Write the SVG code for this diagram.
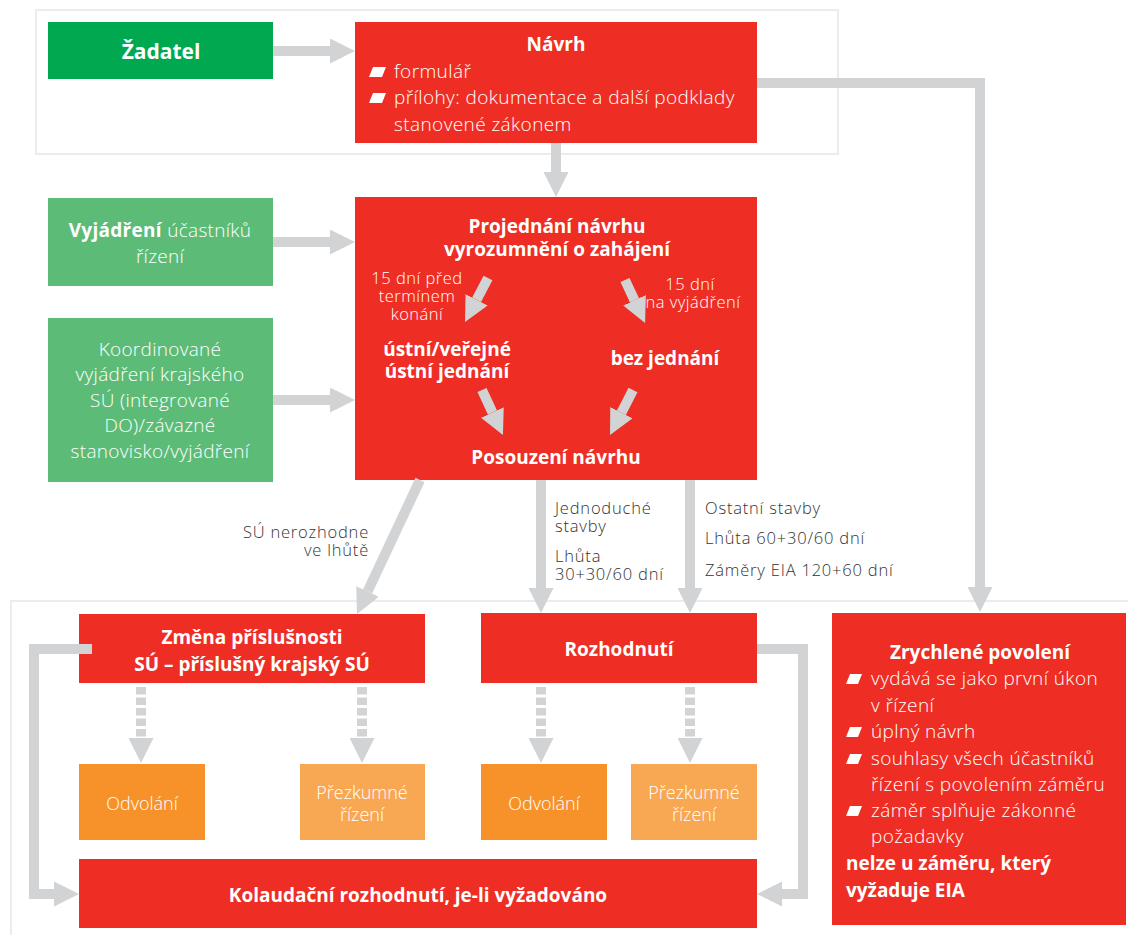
<svg xmlns="http://www.w3.org/2000/svg" width="1128" height="935" viewBox="0 0 1128 935">
<style>
  text { font-family: "Open Sans", "Liberation Sans", sans-serif; }
  .b { font-weight: 700; fill: #ffffff; font-size: 19px; }
  .l { font-weight: 300; fill: #ffffff; font-size: 19px; letter-spacing: 0.4px; }
  .g { font-weight: 300; fill: #ffffff; font-size: 19px; letter-spacing: 0.3px; }
  .o { font-weight: 300; fill: #ffffff; font-size: 18px; }
  .s { font-weight: 300; fill: #ffffff; font-size: 16.5px; letter-spacing: 0.5px; }
  .lab { font-weight: 300; fill: #333333; font-size: 16.5px; letter-spacing: 0.8px; }
  .c { text-anchor: middle; }
  .red { fill: #ee2e24; }
  .g1 { fill: #00a94f; }
  .g2 { fill: #5dbb78; }
  .o1 { fill: #f7922a; }
  .o2 { fill: #f8a852; }
  .frame { fill: none; stroke: #ececec; stroke-width: 2; }
  .con { fill: none; stroke: #d1d3d4; stroke-width: 10; marker-end: url(#ah); }
  .dash { stroke-dasharray: 7.5 3; }
  .bul { fill: #ffffff; }
</style>
<defs>
  <marker id="ah" viewBox="0 0 25 25" markerWidth="25" markerHeight="25" refX="0" refY="12.5" orient="auto" markerUnits="userSpaceOnUse">
    <path d="M0,0 L25,12.5 L0,25 z" fill="#d1d3d4"/>
  </marker>
</defs>
<rect width="1128" height="935" fill="#ffffff"/>
<g id="frames">
  <rect class="frame" x="36" y="10" width="802" height="144"/>
  <path class="frame" d="M11,936 V601 H1130"/>
</g>
<g id="zadatel">
  <rect class="g1" x="48" y="22" width="225" height="57"/>
  <text class="b c" x="161" y="59" style="font-size:21px">Žadatel</text>
</g>
<g id="navrh">
  <rect class="red" x="355" y="22" width="402" height="121"/>
  <text class="b c" x="556" y="51">Návrh</text>
  <polygon class="bul" points="373,67 386,67 382,77 369,77"/>
  <text class="l" x="394" y="78">formulář</text>
  <polygon class="bul" points="373,93 386,93 382,103 369,103"/>
  <text class="l" x="394" y="104">přílohy: dokumentace a další podklady</text>
  <text class="l" x="394" y="131">stanovené zákonem</text>
</g>
<g id="vyjadreni">
  <rect class="g2" x="48" y="198" width="225" height="88"/>
  <text class="g c" x="160" y="237"><tspan font-weight="700">Vyjádření</tspan> účastníků</text>
  <text class="g c" x="160" y="263">řízení</text>
</g>
<g id="koordinovane">
  <rect class="g2" x="48" y="318" width="225" height="164"/>
  <text class="g c" x="160" y="356">Koordinované</text>
  <text class="g c" x="160" y="381">vyjádření krajského</text>
  <text class="g c" x="160" y="407">SÚ (integrované</text>
  <text class="g c" x="160" y="432">DO)/závazné</text>
  <text class="g c" x="160" y="458">stanovisko/vyjádření</text>
</g>
<g id="projednani">
  <rect class="red" x="355" y="197" width="402" height="283"/>
  <text class="b c" x="557" y="233">Projednání návrhu</text>
  <text class="b c" x="557" y="256">vyrozumnění o zahájení</text>
  <text class="b c" x="447" y="356">ústní/veřejné</text>
  <text class="b c" x="447" y="378">ústní jednání</text>
  <text class="b c" x="665" y="365">bez jednání</text>
  <text class="b c" x="556" y="464">Posouzení návrhu</text>
</g>
<g id="zmena">
  <rect class="red" x="79" y="614" width="346" height="69"/>
  <text class="b c" x="252" y="644">Změna příslušnosti</text>
  <text class="b c" x="252" y="671">SÚ – příslušný krajský SÚ</text>
</g>
<g id="rozhodnuti">
  <rect class="red" x="481" y="613" width="276" height="70"/>
  <text class="b c" x="619" y="656">Rozhodnutí</text>
</g>
<g id="odvolani1">
  <rect class="o1" x="79" y="764" width="126" height="76"/>
  <text class="o c" x="142" y="810">Odvolání</text>
</g>
<g id="prezkumne1">
  <rect class="o2" x="300" y="764" width="125" height="76"/>
  <text class="o c" x="362" y="799">Přezkumné</text>
  <text class="o c" x="362" y="821">řízení</text>
</g>
<g id="odvolani2">
  <rect class="o1" x="481" y="764" width="126" height="76"/>
  <text class="o c" x="544" y="810">Odvolání</text>
</g>
<g id="prezkumne2">
  <rect class="o2" x="631" y="764" width="126" height="76"/>
  <text class="o c" x="694" y="799">Přezkumné</text>
  <text class="o c" x="694" y="821">řízení</text>
</g>
<g id="kolaudacni">
  <rect class="red" x="79" y="859" width="678" height="69"/>
  <text class="b c" x="418" y="902">Kolaudační rozhodnutí, je-li vyžadováno</text>
</g>
<g id="zrychlene">
  <rect class="red" x="832" y="613" width="294" height="312"/>
  <text class="b c" x="980" y="659">Zrychlené povolení</text>
  <polygon class="bul" points="850,674 862,674 858,684 846,684"/>
  <text class="l" x="871" y="685">vydává se jako první úkon</text>
  <text class="l" x="871" y="712">v řízení</text>
  <polygon class="bul" points="850,727 862,727 858,737 846,737"/>
  <text class="l" x="871" y="738">úplný návrh</text>
  <polygon class="bul" points="850,754 862,754 858,764 846,764"/>
  <text class="l" x="871" y="765">souhlasy všech účastníků</text>
  <text class="l" x="871" y="791">řízení s povolením záměru</text>
  <polygon class="bul" points="850,806 862,806 858,816 846,816"/>
  <text class="l" x="871" y="817">záměr splňuje zákonné</text>
  <text class="l" x="871" y="843">požadavky</text>
  <text class="b" x="846" y="870">nelze u záměru, který</text>
  <text class="b" x="846" y="897">vyžaduje EIA</text>
</g>
<g id="connectors">
  <path class="con" d="M273,51 H330"/>
  <path class="con" d="M273,242 H330"/>
  <path class="con" d="M273,400 H330"/>
  <path class="con" d="M556,143 V172"/>
  <path class="con" d="M757,83 H980 V587"/>
  <path class="con" d="M488,278 L476.6,299.8"/>
  <path class="con" d="M625,280 L634.5,300.3"/>
  <path class="con" d="M482,390 L492.4,412.4"/>
  <path class="con" d="M633,390 L621.4,412.7"/>
  <path class="con" d="M420,480 L367.6,591.4"/>
  <path class="con" d="M541,480 V588"/>
  <path class="con" d="M690,480 V588"/>
  <path class="con dash" d="M141,687 V738"/>
  <path class="con dash" d="M362,687 V738"/>
  <path class="con dash" d="M541,687 V738"/>
  <path class="con dash" d="M690,687 V738"/>
  <path class="con" d="M92,649 H34 V894 H54"/>
  <path class="con" d="M757,649 H803 V894 H782"/>
  <g id="edge-labels">
    <text class="s c" x="417" y="284">15 dní před</text>
    <text class="s c" x="417" y="302">termínem</text>
    <text class="s c" x="417" y="320">konání</text>
    <text class="s c" x="690" y="290">15 dní</text>
    <text class="s c" x="693" y="308">na vyjádření</text>
    <text class="lab" x="369" y="538" text-anchor="end">SÚ nerozhodne</text>
    <text class="lab" x="369" y="556" text-anchor="end">ve lhůtě</text>
    <text class="lab" x="555" y="514">Jednoduché</text>
    <text class="lab" x="555" y="532">stavby</text>
    <text class="lab" x="555" y="562">Lhůta</text>
    <text class="lab" x="555" y="580">30+30/60 dní</text>
    <text class="lab" x="705" y="514">Ostatní stavby</text>
    <text class="lab" x="705" y="544">Lhůta 60+30/60 dní</text>
    <text class="lab" x="705" y="576">Záměry EIA 120+60 dní</text>
  </g>
</g>
</svg>
